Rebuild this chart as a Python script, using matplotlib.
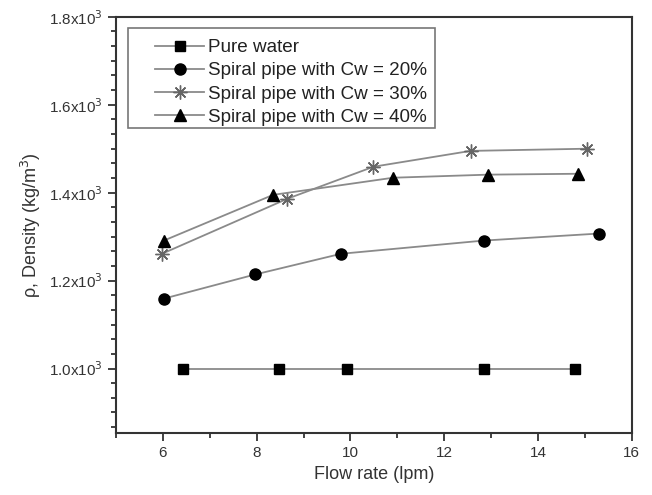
import numpy as np
import matplotlib
matplotlib.use("Agg")
import matplotlib.pyplot as plt
from matplotlib.ticker import MultipleLocator, FuncFormatter
from matplotlib.patches import Rectangle

plt.rcParams['font.family'] = ['Liberation Sans', 'DejaVu Sans']

# data
x_water = [6.43, 8.48, 9.93, 12.84, 14.78]
y_water = [1000, 1000, 1000, 1000, 1000]

x_20 = [6.02, 7.97, 9.8, 12.84, 15.3]
y_20 = [1159, 1214, 1261, 1291, 1307]

x_30 = [5.98, 8.65, 10.49, 12.56, 15.04]
y_30 = [1261, 1386, 1459, 1495, 1500]

x_40 = [6.02, 8.35, 10.91, 12.94, 14.85]
y_40 = [1291, 1395, 1434, 1441, 1443]

labels = ["Pure water", "Spiral pipe with Cw = 20%",
          "Spiral pipe with Cw = 30%", "Spiral pipe with Cw = 40%"]

fig = plt.figure(figsize=(6.52, 4.95), dpi=100)
ax = fig.add_axes([0.178, 0.125, 0.791, 0.841])

lc = '#8a8a8a'
ax.plot(x_water, y_water, color=lc, lw=1.3, marker='s', ms=7, mfc='k', mec='k', label=labels[0])
ax.plot(x_20, y_20, color=lc, lw=1.3, marker='o', ms=8, mfc='k', mec='k', label=labels[1])
ax.plot(x_30, y_30, color=lc, lw=1.3, marker=(8, 2, 0), ms=10, mec='#666666', mew=1.0, label=labels[2])
ax.plot(x_40, y_40, color=lc, lw=1.3, marker='^', ms=8, mfc='k', mec='k', label=labels[3])

ax.set_xlim(5, 16)
ax.set_ylim(853, 1800)
ax.xaxis.set_major_locator(MultipleLocator(2))
ax.xaxis.set_minor_locator(MultipleLocator(1))
ax.yaxis.set_major_locator(MultipleLocator(200))
ax.yaxis.set_minor_locator(MultipleLocator(200 / 6))

def fmt(v, pos):
    return r'%.1fx10$^3$' % (v / 1000)

ax.yaxis.set_major_formatter(FuncFormatter(fmt))

for s in ax.spines.values():
    s.set_color('#333333')
    s.set_linewidth(1.5)
ax.tick_params(which='major', direction='out', length=6, width=1.3, labelsize=11, colors='#333333')
ax.tick_params(which='minor', direction='out', length=3.5, width=1.3, colors='#333333')
ax.tick_params(right=False, top=False, which='both')

ax.set_xlabel("Flow rate (lpm)", fontsize=13, color='#333333')
ax.set_ylabel(r"ρ, Density (kg/m$^3$)", fontsize=13, color='#333333')

# legend box drawn separately (wide left padding as in the original)
ax.add_patch(Rectangle((0.023, 0.733), 0.595, 0.241, transform=ax.transAxes,
                       fill=False, edgecolor='#777777', lw=1.2, zorder=5))
leg = ax.legend(loc='upper left', bbox_to_anchor=(0.076, 0.947), fontsize=13.6,
                frameon=False, borderpad=0, labelspacing=0.32,
                handlelength=2.6, handletextpad=0.2, borderaxespad=0)
for t in leg.get_texts():
    t.set_color('#222222')

fig.savefig("out.png", dpi=100)
